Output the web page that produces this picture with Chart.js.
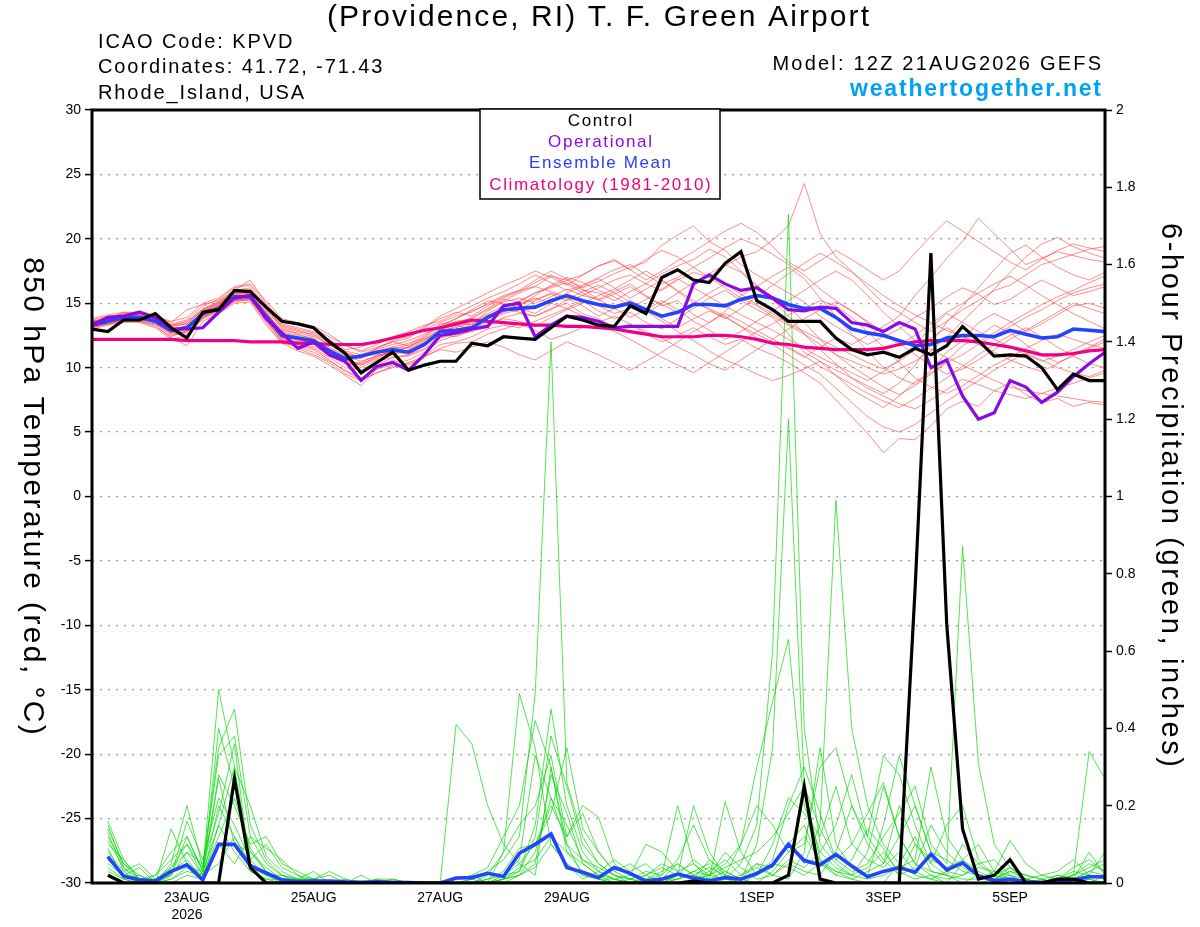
<!DOCTYPE html>
<html>
<head>
<meta charset="utf-8">
<script src="https://cdn.jsdelivr.net/npm/chart.js@4.4.1/dist/chart.umd.min.js"></script>
<style>
  html, body { margin: 0; padding: 0; background: #fff; }
  canvas { display: block; }
</style>
</head>
<body>
<canvas id="meteogram" width="1200" height="927"></canvas>
<script>
// forecast hours from 12Z 21AUG2026, every 6 h
const hours = [];
for (let h = 0; h <= 384; h += 6) hours.push(h);

// date ticks on the bottom axis
const tickHours = [36, 84, 132, 180, 252, 300, 348];
const tickLabels = [['23AUG', '2026'], '25AUG', '27AUG', '29AUG', '1SEP', '3SEP', '5SEP'];

// 850 hPa temperature (C)
const ctrlT = [13.0,12.8,13.7,13.7,14.2,13.1,12.3,14.3,14.5,16.0,15.9,14.7,
  13.6,13.4,13.1,12.0,11.1,9.6,10.4,11.2,9.8,10.2,
  10.5,10.5,11.9,11.7,12.4,12.3,12.2,13.1,14.0,13.7,13.3,13.2,
  14.8,14.2,17.0,17.6,16.8,16.6,18.1,19.0,15.2,14.5,
  13.6,13.6,13.6,12.3,11.4,11.0,11.2,10.8,11.5,11.0,
  11.7,13.2,12.1,10.9,11.0,10.9,10.0,8.3,9.5,9.0,9.0];
const operT = [13.3,13.9,14.0,14.3,13.9,13.0,13.0,13.1,14.3,15.4,15.6,13.8,
  12.7,11.5,12.0,11.0,10.5,9.0,10.1,10.4,9.8,11.0,
  12.5,12.7,13.0,13.2,14.8,15.0,12.4,13.3,14.0,13.9,13.6,13.1,
  13.2,13.2,13.2,13.2,16.5,17.2,16.5,16.0,16.2,15.4,
  14.5,14.4,14.7,14.6,13.5,13.3,12.8,13.5,13.0,10.0,
  10.6,7.8,6.0,6.5,9.0,8.5,7.3,8.1,9.3,10.3,11.2];
const meanT = [13.3,13.6,13.9,13.9,13.6,12.9,13.1,14.2,14.6,15.5,15.5,14.0,
  12.5,12.3,12.1,11.3,10.7,10.9,11.2,11.4,11.2,11.8,
  12.8,12.9,13.1,13.9,14.5,14.6,14.7,15.2,15.6,15.2,14.9,14.7,
  15.0,14.5,14.0,14.3,14.9,14.9,14.8,15.3,15.6,15.4,
  14.9,14.6,14.6,13.9,13.0,12.7,12.5,12.1,11.7,11.8,
  12.3,12.5,12.5,12.4,12.9,12.6,12.3,12.4,13.0,12.9,12.8];
const climT = [12.2,12.2,12.2,12.2,12.2,12.2,12.1,12.1,12.1,12.1,12.0,12.0,
  12.0,11.9,11.9,11.8,11.8,11.8,12.0,12.3,12.6,12.9,
  13.1,13.4,13.7,13.6,13.5,13.4,13.3,13.3,13.2,13.2,13.1,13.0,
  12.8,12.6,12.4,12.4,12.4,12.5,12.5,12.4,12.2,11.9,
  11.8,11.6,11.5,11.4,11.4,11.4,11.5,11.8,12.0,12.1,
  12.1,12.1,12.0,11.8,11.6,11.3,11.0,11.0,11.1,11.3,11.4];

// ensemble members, temperature
const t01 = [13.5,13.8,14.0,14.2,13.8,13.2,13.4,14.5,15.0,15.8,15.9,14.5,
  13.0,12.6,12.2,11.6,10.9,10.5,10.9,11.3,11.0,11.7,
  12.9,13.4,13.9,14.6,15.3,15.1,15.8,16.2,16.6,16.0,15.8,15.2,
  15.9,16.5,16.0,16.8,17.4,17.0,17.9,18.6,19.0,19.9,
  21.0,24.3,20.4,18.6,17.5,16.2,15.0,14.3,13.5,12.8,
  13.6,14.5,15.2,16.0,16.4,17.2,18.0,18.4,18.8,19.2,19.4];
const t02 = [13.2,13.5,13.8,13.9,13.5,12.6,12.8,14.0,14.4,15.2,15.3,13.6,
  12.2,11.8,11.5,10.8,10.0,9.8,10.5,10.8,10.9,11.4,
  12.3,12.6,12.8,13.2,13.9,14.2,14.0,14.6,15.0,14.2,13.8,13.0,
  13.4,12.6,12.0,12.5,13.1,12.4,11.8,12.2,11.5,11.0,
  10.4,9.6,8.8,7.5,6.2,4.9,3.4,4.5,4.4,5.5,
  6.8,7.4,7.0,8.2,8.8,7.9,7.3,7.6,7.0,7.3,7.1];
const t03 = [13.6,13.9,14.2,14.1,13.9,13.4,13.7,14.8,15.3,16.2,16.4,14.9,
  13.4,13.1,12.8,12.2,11.4,11.6,12.1,12.3,12.4,13.0,
  13.5,14.0,14.3,15.0,15.6,16.0,16.3,17.1,16.8,16.2,16.7,17.3,
  17.8,18.2,19.5,20.3,21.0,19.8,19.1,18.0,17.2,16.5,
  15.8,15.1,14.0,13.2,12.5,11.8,12.4,13.0,13.9,14.6,
  15.5,16.2,15.7,14.9,15.3,16.1,16.8,16.2,15.6,15.9,16.3];
const t04 = [13.1,13.4,13.6,13.6,13.3,12.3,11.7,13.6,14.2,15.0,15.1,13.3,
  11.9,11.3,10.9,10.2,9.4,8.6,9.9,10.6,10.2,10.9,
  11.8,12.0,12.4,13.0,13.3,13.1,13.6,14.1,14.6,15.2,14.4,13.8,
  14.3,13.5,13.0,13.8,14.6,15.4,16.0,15.2,14.5,13.9,
  12.6,11.2,10.5,9.4,8.3,7.6,6.9,7.8,8.9,9.6,
  10.5,11.7,12.4,13.3,12.7,11.8,11.0,10.4,10.9,11.5,12.0];
const t05 = [13.4,13.7,14.1,13.8,13.7,13.1,12.6,14.1,14.7,15.6,15.8,14.2,
  12.8,12.5,12.3,11.4,10.6,10.2,10.7,11.4,11.8,12.5,
  13.4,13.5,13.3,14.4,15.1,15.4,15.0,15.5,16.1,15.6,15.3,15.9,
  16.5,15.6,14.8,15.2,14.1,13.5,14.4,15.6,16.3,17.1,
  17.8,16.9,15.4,14.0,12.6,11.3,10.0,9.2,8.7,9.8,
  11.2,12.1,13.5,14.2,13.6,12.8,13.4,14.1,14.8,15.0,14.6];
const t06 = [13.7,14.0,14.1,14.4,14.0,13.5,14.5,14.9,15.2,16.0,16.8,15.0,
  13.6,13.4,13.0,12.4,11.8,11.2,11.6,12.0,11.7,12.2,
  12.6,12.4,12.9,13.6,14.2,14.5,15.2,15.8,15.4,14.8,14.0,14.6,
  15.2,14.6,13.8,13.1,13.8,14.4,13.9,13.2,12.6,12.0,
  11.5,10.8,11.6,12.3,11.8,12.5,13.2,14.0,15.6,17.0,
  18.5,19.8,21.6,20.4,19.2,18.0,18.5,19.0,18.7,18.4,18.2];
const t07 = [13.3,13.6,13.8,14.0,13.5,12.8,13.0,14.3,14.9,15.9,15.7,14.1,
  12.4,12.0,11.8,10.9,10.3,10.4,11.0,11.1,11.3,11.9,
  12.8,13.2,13.6,14.2,14.8,15.0,15.4,15.0,14.6,14.0,13.4,12.8,
  12.2,11.5,10.8,10.2,9.6,10.4,11.2,12.0,12.8,13.4,
  14.1,14.6,15.2,14.8,13.9,12.8,11.6,10.4,9.2,8.5,
  8.0,8.6,9.4,10.2,10.8,11.5,12.1,12.6,12.2,11.8,11.5];
const t08 = [13.5,13.7,13.9,13.7,13.4,12.7,13.2,14.0,14.8,15.4,15.6,14.4,
  12.6,12.1,12.0,11.5,10.8,10.7,11.3,11.6,11.5,12.1,
  13.0,13.3,13.0,13.8,14.3,14.8,15.6,16.4,17.0,16.6,16.0,15.5,
  14.8,14.2,15.0,15.8,16.6,17.3,18.0,17.4,16.3,15.5,
  14.8,13.5,12.2,11.0,10.1,9.3,8.5,7.9,8.6,9.5,
  10.4,11.0,11.8,12.5,13.2,13.9,14.5,15.2,15.8,16.2,16.5];
const t09 = [13.0,13.3,13.5,13.6,13.2,12.4,12.9,13.8,14.3,15.1,15.3,13.8,
  12.0,11.6,11.2,10.5,9.8,9.2,9.9,10.2,10.6,11.2,
  12.1,12.5,12.9,13.4,13.8,13.6,13.2,13.9,14.5,15.0,15.6,16.1,
  16.8,17.5,16.8,15.9,15.0,14.6,14.0,13.2,12.3,11.8,
  11.0,10.2,9.5,8.4,7.3,6.2,5.4,5.0,5.6,6.5,
  7.4,8.2,9.0,9.8,10.5,11.1,10.6,10.0,9.6,9.3,9.8];
const t10 = [13.6,13.8,14.3,14.1,13.8,13.3,13.5,14.6,15.1,15.8,16.1,14.6,
  13.2,12.9,12.5,11.8,11.0,10.9,11.4,11.8,12.1,12.6,
  13.2,13.8,14.4,14.9,15.5,16.0,16.8,17.5,16.9,16.1,15.3,14.6,
  13.9,14.5,15.2,14.5,13.6,12.9,12.2,12.8,13.6,14.4,
  15.2,16.0,16.8,17.5,16.8,15.6,14.3,13.2,12.1,11.4,
  10.8,10.2,9.6,9.0,8.5,8.2,8.0,7.8,7.6,7.4,7.3];
const t11 = [13.2,13.5,13.7,13.8,13.6,12.9,13.3,14.2,14.6,15.3,15.4,13.9,
  12.3,12.2,11.9,11.0,10.4,10.0,10.6,11.0,11.4,12.0,
  12.4,12.8,13.4,14.1,14.4,14.9,15.3,15.7,15.2,15.6,16.2,16.8,
  17.2,16.5,17.3,17.9,18.4,19.2,18.6,17.5,16.4,15.3,
  14.0,12.6,11.4,10.3,9.2,8.6,8.0,8.8,10.2,11.9,
  13.5,14.8,16.2,17.6,18.9,19.5,18.6,17.8,17.2,16.8,17.4];
const t12 = [13.4,13.6,14.0,14.0,13.7,13.0,12.2,14.4,14.9,15.7,15.9,14.3,
  12.7,12.4,12.1,11.2,10.5,9.6,10.2,10.8,11.0,11.5,
  12.5,13.0,13.2,13.8,14.6,14.3,14.0,14.5,15.3,15.9,16.4,15.8,
  15.1,14.4,13.6,12.8,12.1,11.3,10.6,10.1,9.5,9.0,
  9.4,9.9,10.5,9.8,9.2,8.4,7.8,7.2,6.8,7.5,
  8.3,9.1,8.7,8.2,7.9,7.6,8.0,8.4,8.8,9.2,9.6];
const t13 = [13.8,14.1,14.3,14.3,14.0,13.6,13.9,15.0,15.4,16.3,16.5,15.2,
  13.8,13.5,13.2,12.6,11.7,11.3,11.8,12.4,12.8,13.3,
  13.6,14.2,14.8,15.4,15.9,16.5,17.2,16.6,16.0,16.4,17.0,17.6,
  18.0,17.2,16.5,17.0,17.8,18.5,19.3,20.0,19.5,18.8,
  18.0,17.2,16.1,15.2,14.4,13.5,12.6,11.8,12.5,13.4,
  14.3,15.0,15.8,16.5,17.1,16.4,15.6,14.9,14.2,13.6,13.0];
const t14 = [13.1,13.4,13.6,13.5,13.1,12.2,12.5,13.9,14.5,15.3,15.2,13.5,
  11.9,11.7,11.4,10.6,9.7,9.1,9.6,10.1,10.3,10.8,
  11.5,11.9,12.0,12.6,13.0,13.4,12.9,12.2,12.6,13.1,13.5,14.0,
  13.4,12.8,12.3,11.6,11.0,10.3,9.8,10.6,11.4,12.2,
  13.0,13.8,14.5,15.1,14.4,13.6,12.7,11.9,11.0,10.2,
  9.5,9.9,10.6,11.4,12.2,12.9,13.6,14.3,15.0,14.6,14.2];
const t15 = [13.5,13.9,14.0,13.9,13.8,13.3,13.6,14.5,15.1,16.0,16.2,14.7,
  13.1,12.8,12.6,11.9,11.2,10.8,11.2,11.6,11.9,12.3,
  13.1,13.6,13.8,14.5,15.2,15.8,16.3,15.9,15.5,15.1,14.8,14.2,
  14.6,15.3,16.1,16.9,16.2,15.5,14.8,14.1,13.5,12.9,
  12.2,11.5,10.8,10.2,9.6,9.0,9.7,10.6,11.8,13.1,
  14.2,13.5,12.8,12.2,11.6,11.0,10.5,10.9,11.4,12.0,12.5];
const t16 = [13.3,13.5,13.7,13.8,13.5,12.7,13.1,14.0,14.7,15.5,15.5,13.8,
  12.3,11.9,11.6,11.1,10.4,10.2,10.9,11.2,11.6,12.2,
  12.9,13.1,13.5,14.0,14.7,15.2,15.8,16.3,16.8,17.2,17.9,18.3,
  17.6,18.4,19.1,18.6,17.8,17.0,16.2,15.4,14.8,14.0,
  13.3,12.6,11.8,11.0,10.5,10.0,9.5,9.9,10.5,11.3,
  12.4,13.6,14.8,16.1,17.4,18.6,19.6,20.1,19.4,18.9,18.5];
const t17 = [13.4,13.8,14.1,14.0,13.6,13.0,13.2,14.3,14.8,15.6,15.7,14.2,
  12.9,12.7,12.4,11.8,11.1,10.8,11.5,12.0,12.3,13.1,
  14.0,14.6,15.2,15.8,16.4,16.9,17.5,17.0,16.4,17.2,17.9,18.4,
  17.6,16.8,17.5,18.3,19.0,19.8,20.6,21.2,20.5,19.4,
  18.2,17.5,18.3,19.1,18.4,17.6,16.8,17.5,18.9,20.2,
  21.4,20.6,19.8,19.0,18.2,17.6,18.4,19.1,19.6,19.3,19.0];
const t18 = [13.2,13.4,13.7,13.6,13.4,12.5,12.8,13.9,14.4,15.2,15.4,13.7,
  12.1,11.5,11.0,10.4,9.5,9.0,9.6,10.0,10.4,10.9,
  11.4,11.2,11.6,12.0,11.6,11.0,10.6,11.3,12.0,11.5,11.0,10.4,
  9.8,10.5,11.2,12.0,12.8,13.5,14.2,13.6,12.9,12.2,
  11.6,10.9,10.1,9.4,8.7,8.0,7.4,6.9,7.6,8.4,
  9.2,10.1,11.0,11.8,12.5,13.1,12.4,11.6,10.9,10.3,10.0];
const t19 = [13.6,13.7,13.9,14.2,13.9,13.2,13.4,14.4,15.0,15.7,16.0,14.6,
  13.3,13.0,12.7,12.0,11.3,11.0,11.5,12.1,12.5,13.2,
  13.8,14.3,14.0,14.8,15.4,15.9,16.6,17.2,16.5,15.8,15.2,15.7,
  16.3,15.5,14.9,14.3,15.0,15.8,16.5,15.7,14.9,14.2,
  13.4,12.8,12.2,11.6,11.0,10.4,9.9,10.5,11.4,12.3,
  13.1,12.4,11.8,11.2,10.6,10.1,9.7,10.3,11.0,11.6,12.2];
const t20 = [13.3,13.6,13.8,13.7,13.6,12.8,12.4,13.8,14.6,15.5,15.6,14.0,
  12.6,12.3,11.9,11.3,10.6,10.3,10.8,11.3,11.6,12.4,
  13.3,13.8,14.5,15.2,15.0,14.6,14.2,15.0,15.8,16.3,16.9,16.2,
  15.4,16.1,16.8,16.0,15.2,14.5,13.8,14.6,15.5,16.4,
  17.3,18.1,18.9,18.2,17.4,16.5,15.6,14.8,14.1,13.5,
  12.9,12.4,12.0,12.7,13.5,14.2,14.9,15.5,16.0,16.6,17.1];
const tempMembers = [t01,t02,t03,t04,t05,t06,t07,t08,t09,t10,
                     t11,t12,t13,t14,t15,t16,t17,t18,t19,t20];

// 6-hour precipitation (inches), first step has no value
const ctrlP = [null,0.02,0,0,0,0,0,0,0,0.27,0.04,0,
  0,0,0,0,0,0,0,0,0,0,
  0,0,0,0,0,0,0,0,0,0,0,0,
  0,0,0,0,0.005,0,0,0,0,0,
  0.02,0.25,0.01,0,0,0,0,0,0.76,1.63,
  0.67,0.14,0.01,0.02,0.06,0,0,0.01,0.01,0,0];
const meanP = [null,0.068,0.018,0.008,0.005,0.03,0.047,0.008,0.10,0.10,0.045,0.026,
  0.008,0.004,0.005,0.005,0.003,0.002,0.003,0.002,0.001,0,
  0,0.013,0.014,0.025,0.017,0.077,0.10,0.127,0.04,0.028,0.014,0.04,
  0.025,0.005,0.01,0.023,0.013,0.006,0.014,0.01,0.025,0.047,
  0.10,0.058,0.047,0.074,0.044,0.016,0.03,0.04,0.028,0.074,
  0.034,0.052,0.019,0.006,0.01,0.003,0.002,0.005,0.008,0.016,0.016];

// ensemble members, precipitation
const p01 = [null,0.15,0.04,0,0,0.02,0.12,0.03,0.50,0.30,0.06,0.02,
  0,0,0,0,0,0,0,0,0,0,
  0,0.01,0.02,0,0.08,0.49,0.35,0.10,0.05,0.02,0.01,0,
  0,0.01,0.03,0.05,0.02,0,0.01,0.05,0.15,0.60,
  1.73,0.40,0.10,0.05,0.02,0.04,0.08,0.03,0.01,0.02,
  0,0.05,0.02,0,0,0,0,0,0.01,0.03,0.02];
const p02 = [null,0.10,0.06,0.01,0,0.05,0.20,0.04,0.33,0.38,0.12,0.05,
  0.02,0,0,0,0,0,0.01,0,0,0,
  0,0.41,0.36,0.20,0.10,0.05,0.02,0.30,0.08,0.03,0.01,0,
  0.01,0,0,0.02,0.20,0.08,0.02,0.01,0.10,0.35,
  1.20,0.25,0.06,0.02,0.01,0,0,0.05,0.12,0.03,
  0.02,0,0,0.01,0.03,0.01,0,0,0,0.01,0];
const p03 = [null,0.05,0.02,0,0,0.14,0.05,0.02,0.27,0.10,0.08,0.03,
  0.01,0.01,0.03,0,0,0,0,0,0,0,
  0,0,0.01,0.03,0.06,0.12,0.49,1.40,0.26,0.12,0.05,0.02,
  0,0,0.01,0.05,0.02,0.01,0.21,0.08,0.02,0.04,
  0.10,0.05,0.15,0.99,0.40,0.20,0.10,0.05,0.02,0.01,
  0,0,0.02,0.01,0,0,0,0,0,0,0];
const p04 = [null,0.08,0.03,0.05,0.01,0.02,0.16,0.06,0.22,0.15,0.06,0.10,
  0.04,0.02,0,0,0.01,0,0,0,0,0,
  0,0,0,0.02,0.08,0.15,0.20,0.33,0.12,0.20,0.17,0.05,
  0.02,0.01,0.02,0.20,0.05,0.01,0.03,0.01,0.05,0.02,
  0.01,0.08,0.35,0.10,0.04,0.02,0.15,0.33,0.20,0.08,
  0.03,0.05,0.02,0.01,0.04,0.02,0.01,0,0.02,0.05,0.03];
const p05 = [null,0.12,0.05,0.02,0,0.01,0.03,0.02,0.40,0.25,0.08,0.04,
  0.01,0,0,0,0,0,0,0,0,0,
  0,0,0.01,0,0.02,0.03,0.15,0.45,0.20,0.08,0.03,0.01,
  0,0,0,0.01,0.03,0.05,0.01,0,0.02,0.06,
  0.20,0.30,0.18,0.06,0.03,0.05,0.12,0.18,0.25,0.10,
  0.05,0.87,0.31,0.10,0.04,0.01,0,0,0.01,0.02,0.01];
const p06 = [null,0.04,0.01,0,0.02,0.08,0.12,0.03,0.15,0.30,0.20,0.07,
  0.03,0.01,0.01,0.02,0,0,0,0,0,0,
  0,0,0,0.01,0.03,0.09,0.10,0.18,0.35,0.14,0.08,0.03,
  0.05,0.02,0,0.01,0.02,0.04,0.02,0.10,0.30,0.47,
  0.63,0.20,0.08,0.04,0.02,0.01,0.02,0.04,0.06,0.30,
  0.12,0.06,0.03,0.01,0,0,0,0.01,0.04,0.06,0.03];
const p07 = [null,0.16,0.06,0.01,0,0.03,0.06,0.01,0.10,0.05,0.12,0.09,
  0.06,0.02,0.01,0,0,0,0.01,0.01,0,0,
  0,0,0,0,0.01,0.04,0.06,0.12,0.08,0.05,0.02,0.01,
  0.02,0.10,0.08,0.03,0.05,0.02,0.01,0.02,0.04,0.02,
  0.05,0.03,0.02,0.08,0.20,0.12,0.33,0.28,0.15,0.05,
  0.02,0.01,0.01,0.03,0.11,0.05,0.02,0.01,0.02,0.34,0.27];
const p08 = [null,0.07,0.02,0.04,0,0.02,0.08,0.05,0.18,0.36,0.03,0.01,
  0.01,0,0,0,0,0,0,0,0,0,
  0,0,0,0.01,0.02,0.06,0.33,0.22,0.10,0.02,0.01,0.01,
  0,0,0,0.02,0.06,0.03,0,0.01,0.02,0.10,
  0.22,0.18,0.12,0.25,0.10,0.06,0.04,0.08,0.03,0.01,
  0.03,0.02,0.05,0.06,0.02,0,0,0.02,0.01,0.08,0.02];
const p09 = [null,0.13,0.03,0,0.01,0.04,0.10,0.02,0.05,0.12,0.04,0.02,
  0.02,0.01,0.01,0.03,0.01,0,0,0,0,0,
  0,0,0,0,0.01,0.02,0.04,0.10,0.05,0.01,0.03,0.06,
  0.03,0.05,0.01,0.02,0.01,0.03,0.06,0.02,0.05,0.04,
  0.10,0.15,0.05,0.02,0.06,0.14,0.09,0.02,0.10,0.05,
  0.15,0.20,0.06,0.02,0.04,0.01,0,0.01,0.03,0.02,0.08];
const p10 = [null,0.09,0.01,0.02,0,0.01,0.04,0.03,0.28,0.20,0.10,0.12,
  0.05,0.03,0.01,0,0,0.02,0,0.01,0,0,
  0,0,0,0,0,0.02,0.08,0.22,0.15,0.06,0.04,0.02,
  0.01,0.03,0.02,0.06,0.15,0.06,0.02,0.01,0,0.03,
  0.08,0.12,0.06,0.03,0.01,0.03,0.05,0.20,0.10,0.06,
  0.04,0.06,0.10,0.03,0.01,0,0.01,0.02,0.01,0,0.02];
const p11 = [null,0.11,0.04,0.01,0,0,0.02,0.01,0.15,0.08,0.03,0.01,
  0,0,0.01,0,0,0,0,0,0,0,
  0,0,0,0,0.01,0.03,0.12,0.38,0.25,0.10,0.05,0.02,
  0.01,0,0,0,0.01,0.02,0.05,0.10,0.20,0.15,
  0.08,0.10,0.30,0.35,0.20,0.10,0.05,0.12,0.20,0.08,
  0.06,0.03,0.02,0.01,0.03,0.02,0.01,0,0,0.01,0];
const p12 = [null,0.06,0.02,0.01,0.02,0.06,0.10,0.04,0.35,0.45,0.15,0.06,
  0.02,0.01,0,0,0,0,0,0,0,0,
  0,0,0,0,0.02,0.05,0.10,0.20,0.12,0.18,0.08,0.03,
  0.01,0.02,0.04,0.02,0.01,0.06,0.03,0.01,0.02,0.05,
  0.04,0.02,0.05,0.03,0.02,0.08,0.25,0.12,0.05,0.02,
  0.01,0.02,0.04,0.03,0.02,0.01,0.02,0.03,0.06,0.02,0.01];
const p13 = [null,0.03,0.01,0,0,0.04,0.08,0.02,0.12,0.22,0.09,0.03,
  0.01,0,0,0,0,0,0,0,0,0,
  0,0,0,0,0.01,0.02,0.05,0.28,0.18,0.05,0.02,0,
  0,0.02,0.05,0.03,0.01,0.02,0.08,0.04,0.01,0.02,
  0.06,0.04,0.08,0.15,0.28,0.12,0.06,0.02,0.04,0.15,
  0.08,0.04,0.02,0.01,0.02,0,0,0,0.01,0.03,0.05];
const p14 = [null,0.14,0.05,0.01,0.01,0.03,0.05,0.01,0.20,0.12,0.05,0.02,
  0.01,0.01,0,0,0,0,0,0,0,0,
  0,0.01,0.02,0.04,0.12,0.20,0.42,0.30,0.10,0.06,0.03,0.01,
  0,0,0.01,0.01,0.03,0.02,0.04,0.06,0.08,0.12,
  0.18,0.25,0.14,0.06,0.10,0.18,0.26,0.12,0.05,0.03,
  0.02,0.10,0.05,0.02,0.01,0,0,0.01,0.02,0.04,0.06];
const precipMembers = [p01,p02,p03,p04,p05,p06,p07,p08,p09,p10,p11,p12,p13,p14];

const FONT = "'Liberation Sans', Arial, Helvetica, sans-serif";

function line(data, color, width, axis, order) {
  return {
    data: data,
    borderColor: color,
    borderWidth: width,
    yAxisID: axis,
    order: order,
    pointRadius: 0,
    tension: 0,
    fill: false
  };
}

let datasets = [];
datasets.push(line(ctrlT, '#000000', 3.2, 'y', 1));
datasets.push(line(ctrlP, '#000000', 3.2, 'y2', 1));
datasets.push(line(operT, '#8a0be0', 3.2, 'y', 2));
datasets.push(line(meanT, '#2244ff', 3.6, 'y', 3));
datasets.push(line(meanP, '#2244ff', 3.6, 'y2', 3));
datasets.push(line(climT, '#ee0088', 3.2, 'y', 4));
precipMembers.forEach(m => datasets.push(line(m, 'rgba(0,215,0,0.85)', 0.8, 'y2', 5)));
tempMembers.forEach(m => datasets.push(line(m, 'rgba(255,55,55,0.72)', 0.8, 'y', 6)));

// text drawn with a little extra letter spacing, like the original renderer
function spaced(ctx, txt, x, y, font, spacing, align, color) {
  ctx.font = font;
  ctx.letterSpacing = spacing + 'px';
  ctx.textAlign = align;
  ctx.fillStyle = color;
  // trailing spacing is counted in the width, shift centred/right text back
  let dx = 0;
  if (align === 'center') dx = spacing / 2;
  if (align === 'right') dx = spacing;
  ctx.fillText(txt, x + dx, y);
  ctx.letterSpacing = '0px';
}

// titles, legend box and frame
const decor = {
  id: 'decor',
  afterDatasetsDraw(chart) {
    const ctx = chart.ctx;
    const a = chart.chartArea;
    ctx.save();
    // frame
    ctx.strokeStyle = '#000';
    ctx.lineWidth = 3;
    ctx.strokeRect(a.left, a.top, a.right - a.left, a.bottom - a.top);
    // legend box
    ctx.fillStyle = '#fff';
    ctx.fillRect(480, 109, 240, 90);
    ctx.lineWidth = 1.5;
    ctx.strokeRect(480, 109, 240, 90);
    ctx.textBaseline = 'middle';
    const leg = [['Control', '#000'], ['Operational', '#8a0be0'],
                 ['Ensemble Mean', '#2a3cff'], ['Climatology (1981-2010)', '#f0007f']];
    leg.forEach((l, i) => {
      spaced(ctx, l[0], 600, 121 + i * 21.3, '17px ' + FONT, 1.6, 'center', l[1]);
    });
    ctx.restore();
  },
  afterDraw(chart) {
    const ctx = chart.ctx;
    ctx.save();
    ctx.textBaseline = 'middle';
    spaced(ctx, '(Providence, RI) T. F. Green Airport', 598, 18, '30px ' + FONT, 2.1, 'center', '#000');

    spaced(ctx, 'ICAO Code: KPVD', 98, 42, '20px ' + FONT, 1.9, 'left', '#000');
    spaced(ctx, 'Coordinates: 41.72, -71.43', 98, 67, '20px ' + FONT, 1.9, 'left', '#000');
    spaced(ctx, 'Rhode_Island, USA', 98, 93, '20px ' + FONT, 1.9, 'left', '#000');

    spaced(ctx, 'Model: 12Z 21AUG2026 GEFS', 1101, 64, '20px ' + FONT, 2.2, 'right', '#000');
    spaced(ctx, 'weathertogether.net', 1101, 90, 'bold 23px ' + FONT, 1.8, 'right', '#00a2f5');

    // axis titles, both turned clockwise
    ctx.translate(32, 496);
    ctx.rotate(Math.PI / 2);
    spaced(ctx, '850 hPa Temperature (red, \u00B0C)', 0, 0, '30px ' + FONT, 2.4, 'center', '#000');
    ctx.setTransform(1, 0, 0, 1, 0, 0);
    ctx.translate(1170, 495);
    ctx.rotate(Math.PI / 2);
    spaced(ctx, '6-hour Precipitation (green, inches)', 0, 0, '29px ' + FONT, 2.6, 'center', '#000');
    ctx.restore();
  }
};

const tickFont = { family: FONT, size: 14 };

new Chart(document.getElementById('meteogram'), {
  type: 'line',
  data: { labels: hours, datasets: datasets },
  plugins: [decor],
  options: {
    responsive: false,
    animation: false,
    devicePixelRatio: 1,
    layout: { padding: { top: 110, left: 0, right: 0, bottom: 0 } },
    plugins: { legend: { display: false }, tooltip: { enabled: false } },
    scales: {
      x: {
        type: 'linear',
        min: 0,
        max: 384,
        grid: { display: false, drawTicks: false },
        border: { display: false },
        afterBuildTicks: s => { s.ticks = tickHours.map(v => ({ value: v })); },
        afterFit: s => { s.height = 44; },
        ticks: {
          autoSkip: false,
          maxRotation: 0,
          padding: 7,
          color: '#000',
          font: tickFont,
          callback: v => tickLabels[tickHours.indexOf(v)]
        }
      },
      y: {
        position: 'left',
        min: -30,
        max: 30,
        afterFit: s => { s.width = 92; },
        border: { display: false, dash: [2, 6] },
        grid: {
          color: c => (c.tick && Math.abs(c.tick.value) === 30) ? 'rgba(0,0,0,0)' : '#9a9a9a',
          lineWidth: 1.2,
          tickColor: '#000',
          tickLength: 7,
          tickWidth: 1.5
        },
        ticks: { stepSize: 5, color: '#000', font: tickFont, padding: 4 }
      },
      y2: {
        position: 'right',
        min: 0,
        max: 2,
        afterFit: s => { s.width = 95; },
        border: { display: false },
        grid: { drawOnChartArea: false, tickColor: '#000', tickLength: 7, tickWidth: 1.5 },
        ticks: {
          stepSize: 0.2,
          color: '#000',
          font: tickFont,
          padding: 4,
          callback: v => String(Math.round(v * 10) / 10)
        }
      }
    }
  }
});
</script>
</body>
</html>
